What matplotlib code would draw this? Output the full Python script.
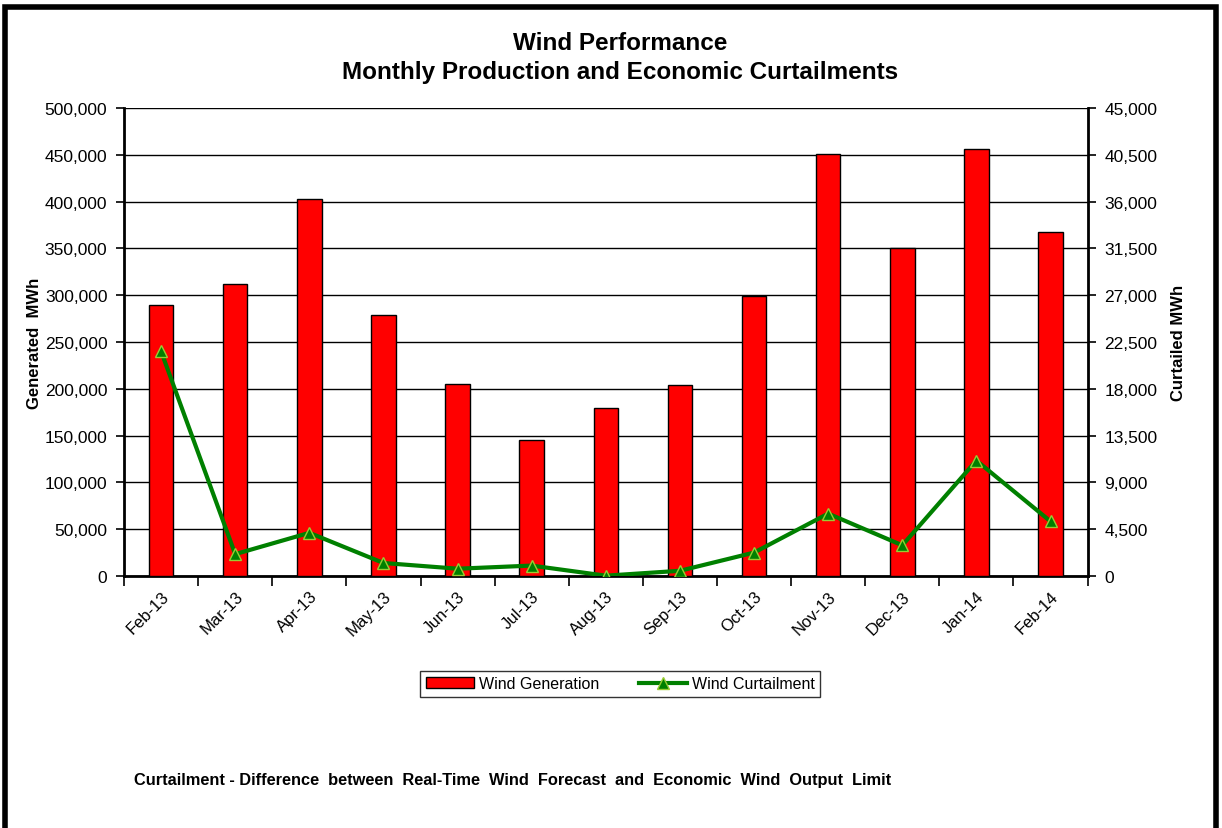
import matplotlib
matplotlib.use("Agg")
import matplotlib.pyplot as plt
from matplotlib.ticker import FuncFormatter, FixedLocator
from matplotlib.patches import Rectangle
import numpy as np

plt.rcParams["font.family"] = ["Liberation Sans", "DejaVu Sans"]

mois = ["Feb-13", "Mar-13", "Apr-13", "May-13", "Jun-13", "Jul-13", "Aug-13",
        "Sep-13", "Oct-13", "Nov-13", "Dec-13", "Jan-14", "Feb-14"]
generation = [290000, 312000, 403000, 279000, 205000, 145000, 180000,
              204000, 299000, 451000, 350000, 456000, 367000]
curtailment = [21600, 2100, 4150, 1250, 700, 1000, 30,
               500, 2250, 6000, 2950, 11100, 5250]

fig = plt.figure(figsize=(12.22, 8.29), dpi=100)
ax = fig.add_axes([0.1015, 0.304, 0.7885, 0.5645])
ax2 = ax.twinx()

x = np.arange(len(mois))
barres = ax.bar(x, generation, width=0.33, color="#ff0000", edgecolor="black",
                linewidth=1, label="Wind Generation", zorder=3)
ligne, = ax2.plot(x, curtailment, color="#008000", linewidth=3, marker="^",
                  markersize=8, markerfacecolor="#008000", markeredgecolor="#99cc33",
                  markeredgewidth=1, label="Wind Curtailment", zorder=4)

ax.set_xlim(-0.5, len(mois) - 0.5)
ax.set_ylim(0, 500000)
ax2.set_ylim(0, 45000)
ax.set_yticks(np.arange(0, 500001, 50000))
ax2.set_yticks(np.arange(0, 45001, 4500))
fmt = FuncFormatter(lambda v, p: f"{int(v):,}")
ax.yaxis.set_major_formatter(fmt)
ax2.yaxis.set_major_formatter(fmt)

ax.set_xticks(x)
ax.set_xticklabels(mois, rotation=45, ha="right", rotation_mode="anchor", fontsize=12)
ax.tick_params(axis="x", length=0, pad=9)
ax.xaxis.set_minor_locator(FixedLocator(np.arange(-0.5, len(mois), 1)))
ax.tick_params(axis="x", which="minor", length=7, width=1.2, direction="out")
ax.tick_params(axis="y", labelsize=12.5, length=6, width=1.2, direction="out", pad=6)
ax2.tick_params(axis="y", labelsize=12.5, length=6, width=1.2, direction="out", pad=6)

ax.grid(axis="y", color="black", linewidth=1, zorder=0)
ax.set_axisbelow(True)
ax.spines["top"].set_visible(False)
ax2.spines["top"].set_visible(False)
for s in ["left", "bottom"]:
    ax.spines[s].set_linewidth(2)
ax2.spines["right"].set_linewidth(2)
ax2.spines["left"].set_visible(False)
ax2.spines["bottom"].set_visible(False)

ax.set_ylabel("Generated  MWh", fontsize=12, fontweight="bold", labelpad=2)
ax2.set_ylabel("Curtailed MWh", fontsize=12, fontweight="bold", labelpad=10)

fig.text(0.5075, 0.948, "Wind Performance", ha="center", va="center",
         fontsize=17.5, fontweight="bold")
fig.text(0.5075, 0.912, "Monthly Production and Economic Curtailments", ha="center",
         va="center", fontsize=17.5, fontweight="bold")

leg = fig.legend(handles=[barres, ligne], loc="center", bbox_to_anchor=(0.5075, 0.174),
                 ncol=2, fontsize=11.5, frameon=True, fancybox=False,
                 edgecolor="black", handlelength=3, columnspacing=2.5, borderpad=0.35,
                 handletextpad=0.3)
leg.get_frame().set_linewidth(1)

fig.text(0.11, 0.059, "Curtailment - Difference  between  Real-Time  Wind  Forecast  and  Economic  Wind  Output  Limit",
         fontsize=11.8, fontweight="bold", va="center")

# cadre autour du graphique
fig.patches.append(Rectangle((0.004, -0.02), 0.991, 1.01, transform=fig.transFigure,
                             fill=False, edgecolor="black", linewidth=4))

plt.savefig("out.png", dpi=100)
